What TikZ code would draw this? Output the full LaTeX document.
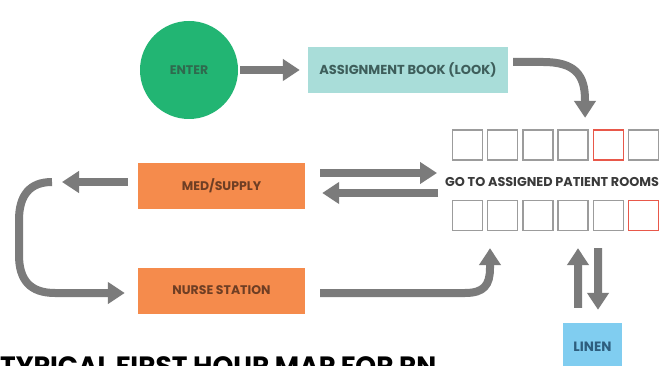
\documentclass[tikz,border=0pt]{standalone}
\usepackage{fontspec}
\setmainfont{Poppins}
\usetikzlibrary{arrows.meta,calc}
\definecolor{cgreen}{HTML}{22B573}
\definecolor{cteal}{HTML}{A9DDD9}
\definecolor{corange}{HTML}{F58B4C}
\definecolor{cblue}{HTML}{80CDF0}
\definecolor{carrow}{HTML}{7B7B7B}
\definecolor{csq}{HTML}{9C9C9C}
\definecolor{cred}{HTML}{E8584A}
\definecolor{tgreen}{HTML}{2F6A4E}
\definecolor{tteal}{HTML}{3E5E5B}
\definecolor{torange}{HTML}{6E3E24}
\definecolor{tblue}{HTML}{2E5E7E}
\definecolor{tgray}{HTML}{3A3A3A}
\tikzset{
  lbl/.style={font=\bfseries\fontsize{12.5}{14}\selectfont},
  boxo/.style={fill=corange, minimum width=167pt, minimum height=46pt, inner sep=0pt, lbl, text=torange},
  room/.style={draw=csq, line width=1.3pt, minimum size=30pt, inner sep=0pt},
  roomr/.style={room, draw=cred},
  fat/.style={draw=carrow, line width=8pt, -{Triangle[width=21pt,length=17pt]}},
}
\begin{document}
\begin{tikzpicture}[x=1pt,y=-1pt]
\clip (0,0) rectangle (664,366);
\fill[white] (0,0) rectangle (664,366);

\node[circle, fill=cgreen, minimum size=98pt, inner sep=0pt, lbl, text=tgreen] (enter) at (189,70) {ENTER};
\node[fill=cteal, minimum width=200pt, minimum height=46pt, inner sep=0pt, lbl, font=\bfseries\fontsize{13}{15}\selectfont, text=tteal] (assign) at (408,70) {ASSIGNMENT BOOK (LOOK)};
\node[boxo] (med) at (221.5,186) {MED/SUPPLY};
\node[boxo] (nurse) at (221.5,290.5) {NURSE STATION};
\node[fill=cblue, minimum width=59pt, minimum height=48pt, inner sep=0pt, lbl, font=\bfseries\fontsize{13.5}{15}\selectfont, text=tblue] (linen) at (592.5,347) {LINEN};

% rooms
\foreach \i in {0,...,5}{
  \pgfmathsetmacro\xx{467.5+35.2*\i}
  \ifnum\i=4
    \node[roomr] (t\i) at (\xx,145) {};
  \else
    \node[room] (t\i) at (\xx,145) {};
  \fi
  \ifnum\i=5
    \node[roomr] (b\i) at (\xx,215.5) {};
  \else
    \node[room] (b\i) at (\xx,215.5) {};
  \fi
}
\node[anchor=west, inner sep=0pt, font=\bfseries\fontsize{12.8}{14}\selectfont, text=tgray] (rooms) at (445,181.5) {GO TO ASSIGNED PATIENT ROOMS};

% title
\node[anchor=base west, inner sep=0pt, font=\bfseries\fontsize{26.5}{30}\selectfont, text=black] (title) at (0,375.5) {TYPICAL FIRST HOUR MAP FOR RN};

\coordinate (a1s) at ($(enter.east)+(2,0)$);
\coordinate (a1e) at ($(assign.west)+(-8,0)$);
\draw[fat] (a1s) -- (a1e);

\coordinate (a2s) at ($(assign.east)+(5,-8)$);
\coordinate (a2e) at ($(t3.north)+(12,-11.5)$);
\draw[fat] (a2s) -- ++(30,0) .. controls (575,62) and (585,75) .. (585,100) -- (a2e);

\coordinate (a3s) at ($(med.east)+(15,-13)$);
\coordinate (a3e) at ($(rooms.west)+(-8,-8.5)$);
\draw[fat] (a3s) -- (a3e);
\coordinate (a4s) at ($(rooms.west)+(-7,11.5)$);
\coordinate (a4e) at ($(med.east)+(17,7)$);
\draw[fat] (a4s) -- (a4e);

\coordinate (a5s) at ($(med.west)+(-10,-4)$);
\coordinate (a5e) at (62,182);
\draw[fat] (a5s) -- (a5e);

\coordinate (a6s) at (52,182);
\coordinate (a6e) at ($(nurse.west)+(-13,2.5)$);
\draw[fat] (a6s) .. controls (30,182) and (19,195) .. (19,220) -- (19,255) .. controls (19,280) and (30,293) .. (55,293) -- (a6e);

\coordinate (a7s) at ($(nurse.east)+(15,2.5)$);
\coordinate (a7e) at ($(b1.south)+(-12.7,17)$);
\draw[fat] (a7s) -- (465,293) .. controls (484,293) and (490,285) .. (490,268) -- (a7e);

\coordinate (a8s) at ($(linen.north)+(-14.5,-15)$);
\coordinate (a8e) at ($(b3.south)+(4.9,17)$);
\draw[fat] (a8s) -- (a8e);
\coordinate (a9s) at ($(b4.south)+(-10.3,17)$);
\coordinate (a9e) at ($(linen.north)+(5.5,-13)$);
\draw[fat] (a9s) -- (a9e);
\end{tikzpicture}
\end{document}
